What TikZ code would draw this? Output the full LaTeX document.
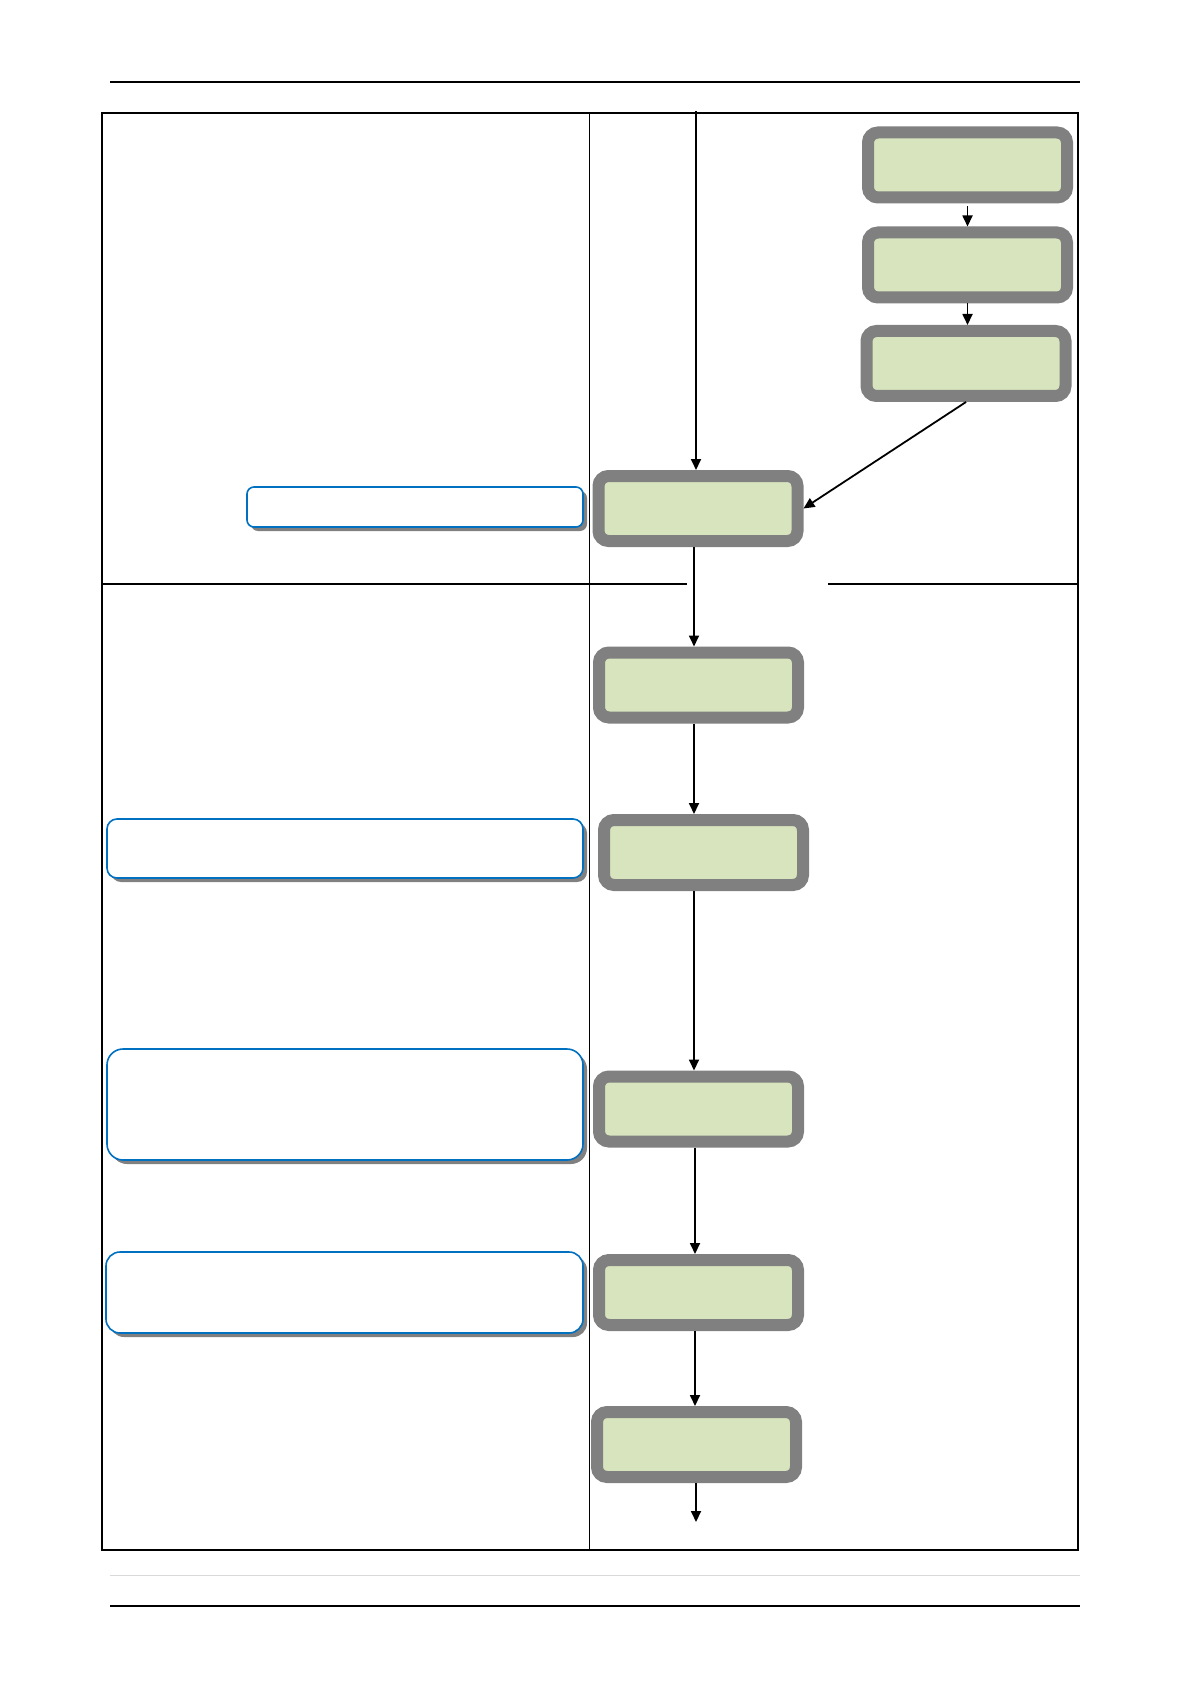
\documentclass[tikz,border=0pt]{standalone}
\usetikzlibrary{arrows.meta,shadows}
\definecolor{boxgreen}{HTML}{D7E4BD}
\definecolor{boxgray}{HTML}{808080}
\definecolor{noteblue}{HTML}{0070C0}
\definecolor{rulegray}{HTML}{D9D9D9}
\tikzset{
  stepbox/.style={draw=boxgray, fill=boxgreen, line width=6pt, rounded corners=5pt,
    minimum width=99.5pt, minimum height=32.5pt, inner sep=0pt},
  notebox/.style={draw=noteblue, fill=white, line width=0.8pt, inner sep=0pt,
    drop shadow={shadow xshift=2pt, shadow yshift=-2pt, fill=boxgray, opacity=1}},
  arr/.style={-{Triangle[width=5pt,length=5.5pt]}, line width=0.9pt},
  frame/.style={line width=0.6pt}
}
\begin{document}
\begin{tikzpicture}[x=0.5pt,y=-0.5pt]
\useasboundingbox (0,0) rectangle (1190,1684);
% page rules
\draw[frame] (110,82) -- (1080,82);
\draw[line width=0.5pt, rulegray] (110,1575) -- (1080,1575);
\draw[frame] (110,1606) -- (1080,1606);
% table frame
\draw[frame] (102,113) rectangle (1078,1550);
\draw[line width=0.5pt] (589,113) -- (589,1550);
\draw[frame] (102,584) -- (687,584);
\draw[frame] (828,584) -- (1078,584);
% note boxes (left column)
\node[notebox, rounded corners=3.5pt, minimum width=168pt, minimum height=20pt] (n1) at (415,507) {};
\node[notebox, rounded corners=5pt, minimum width=238pt, minimum height=29.5pt] (n2) at (345,848.5) {};
\node[notebox, rounded corners=8pt, minimum width=238pt, minimum height=55.5pt] (n3) at (345,1104.5) {};
\node[notebox, rounded corners=7pt, minimum width=238.5pt, minimum height=40.5pt] (n4) at (344.5,1292.5) {};
% process boxes (right column)
\node[stepbox] (a1) at (967.5,165) {};
\node[stepbox] (a2) at (967.5,265) {};
\node[stepbox] (a3) at (966,363.5) {};
\node[stepbox] (b1) at (698,508.5) {};
\node[stepbox] (b2) at (698.5,685) {};
\node[stepbox] (b3) at (703.5,852.5) {};
\node[stepbox] (b4) at (698.5,1109) {};
\node[stepbox] (b5) at (698.5,1292.5) {};
\node[stepbox] (b6) at (696.5,1444.5) {};
\coordinate (in) at (696,111);
\coordinate (out) at (696,1522);
\coordinate (cx) at (694,0);
\coordinate (cy) at (695,0);
% connectors
\draw[arr] (in) -- (in |- b1.north);
\draw[arr, shorten <=1.5pt] (a1.south) -- (a1.south |- a2.north);
\draw[arr] (a2.south) -- (a2.south |- a3.north);
\draw[arr] (a3.south) -- (b1.east);
\draw[arr] (cx |- b1.south) -- (cx |- b2.north);
\draw[arr] (cx |- b2.south) -- (cx |- b3.north);
\draw[arr] (cx |- b3.south) -- (cx |- b4.north);
\draw[arr] (cy |- b4.south) -- (cy |- b5.north);
\draw[arr] (cy |- b5.south) -- (cy |- b6.north);
\draw[arr] (out |- b6.south) -- (out);
\end{tikzpicture}
\end{document}
